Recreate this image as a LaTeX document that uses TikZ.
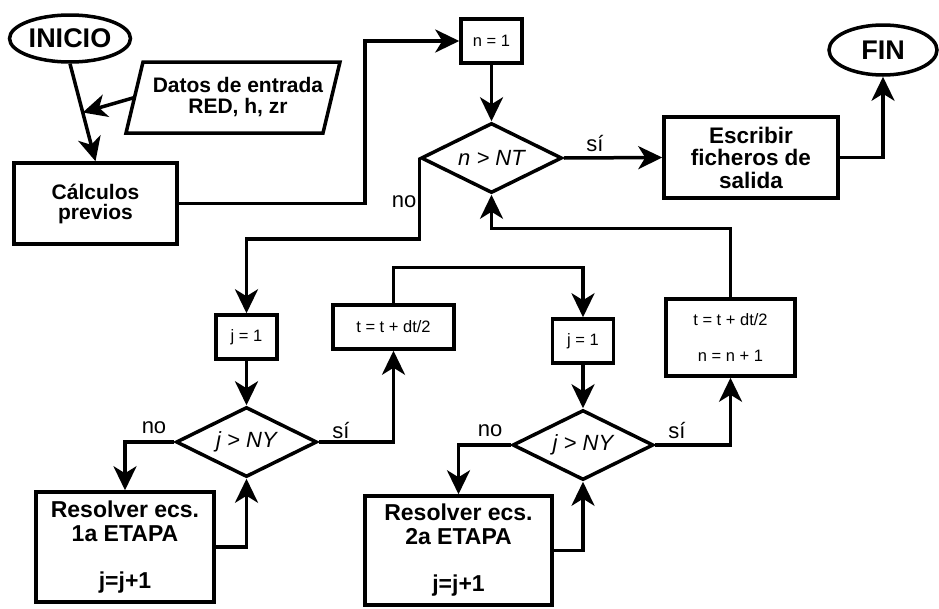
\documentclass[tikz,border=0pt]{standalone}
\usepackage{fontspec}
\setmainfont{Liberation Sans}
\usetikzlibrary{arrows.meta,shapes.geometric,calc}
\begin{document}
\begin{tikzpicture}[x=1pt,y=-1pt,
  every node/.style={inner sep=0pt},
  lw/.style={line width=3.5pt},
  term/.style={ellipse, draw, lw, font=\fontsize{27}{27}\selectfont\bfseries},
  bigbox/.style={rectangle, draw, lw, align=center},
  smallbox/.style={rectangle, draw, lw, align=center, font=\fontsize{16.5}{18}\selectfont},
  decis/.style={diamond, draw, lw, aspect=2, minimum width=141pt, minimum height=70pt, font=\fontsize{22}{22}\selectfont\itshape},
  lab/.style={font=\fontsize{22}{22}\selectfont},
  arr/.style={lw, line join=miter, -{Stealth[length=24pt,width=23pt,inset=7pt]}}
]
\useasboundingbox (0,0) rectangle (939,608);
\fill[white] (0,0) rectangle (939,608);

% terminals
\node[term, minimum width=121pt, minimum height=47pt] (ini) at (70,38.5) {INICIO};
\node[term, minimum width=108pt, minimum height=50pt] (fin) at (883,50) {FIN};

% input data parallelogram
\draw[lw, line join=miter] (143,62) -- (340,62) -- (323,133) -- (126,133) -- cycle;
\node[align=center, font=\fontsize{21}{21}\selectfont\bfseries] (datos) at (238,97.5) {Datos de entrada\\RED, h, zr};
\coordinate (datosL) at (134.5,97.5);

% process boxes
\node[bigbox, minimum width=163pt, minimum height=81pt, font=\fontsize{21}{20}\selectfont\bfseries] (calc) at (95.5,203.5) {Cálculos\\previos};
\node[smallbox, minimum width=61pt, minimum height=44pt] (n1) at (491.5,41) {n = 1};
\node[decis] (d0) at (491.5,158) {n > NT};
\node[bigbox, minimum width=174pt, minimum height=81pt, font=\fontsize{22.5}{22.5}\selectfont\bfseries] (esc) at (751,157.5) {Escribir\\ficheros de\\salida};

\node[smallbox, minimum width=61pt, minimum height=44pt] (j1a) at (246.5,337) {j = 1};
\node[decis] (d1) at (246.5,442) {j > NY};
\node[bigbox, minimum width=178pt, minimum height=110pt, font=\fontsize{23}{24}\selectfont\bfseries] (r1) at (125,547) {Resolver ecs.\\1a ETAPA\\[23pt]j=j+1};
\node[smallbox, minimum width=121pt, minimum height=44pt] (t1) at (393.5,327) {t = t + dt/2};

\node[smallbox, minimum width=61pt, minimum height=44pt] (j1b) at (583,341) {j = 1};
\node[decis] (d2) at (583,445) {j > NY};
\node[bigbox, minimum width=187pt, minimum height=109pt, font=\fontsize{23}{24}\selectfont\bfseries] (r2) at (458.5,550.5) {Resolver ecs.\\2a ETAPA\\[23pt]j=j+1};
\node[smallbox, minimum width=129pt, minimum height=77pt] (t2) at (730.5,337.5) {t = t + dt/2\\[18pt]n = n + 1};

% connectors
\coordinate (mid) at ($(ini.south)!0.5!(calc.north)$);
\draw[arr] (ini.south) -- (calc.north);
\draw[arr] (datosL) -- (mid);
\draw[arr] (calc.east) -- ++(186,0) |- (n1.west);
\draw[arr] (n1.south) -- (d0.north);
\draw[arr] (d0.east) -- (esc.west);
\draw[arr] (esc.east) -| (fin.south);
\draw[arr] (d0.west) -- ++(0,81) -| (j1a.north);
\draw[arr] (j1a.south) -- (d1.north);
\draw[arr] (d1.west) -| (r1.north);
\draw[arr] (r1.east) -| (d1.south);
\draw[arr] (d1.east) -| (t1.south);
\draw[arr] (t1.north) -- ++(0,-36) -| (j1b.north);
\draw[arr] (j1b.south) -- (d2.north);
\draw[arr] (d2.west) -| (r2.north);
\draw[arr] (r2.east) -| (d2.south);
\draw[arr] (d2.east) -| (t2.south);
\draw[arr] (t2.north) -- ++(0,-69) -| (d0.south);

% labels
\node[lab] (s0) at (595,144) {sí};
\node[lab] (n0) at (404,202) {no};
\node[lab] (nl1) at (154,428) {no};
\node[lab] (sl1) at (341,431) {sí};
\node[lab] (nl2) at (490,431) {no};
\node[lab] (sl2) at (677,431) {sí};
\end{tikzpicture}
\end{document}
